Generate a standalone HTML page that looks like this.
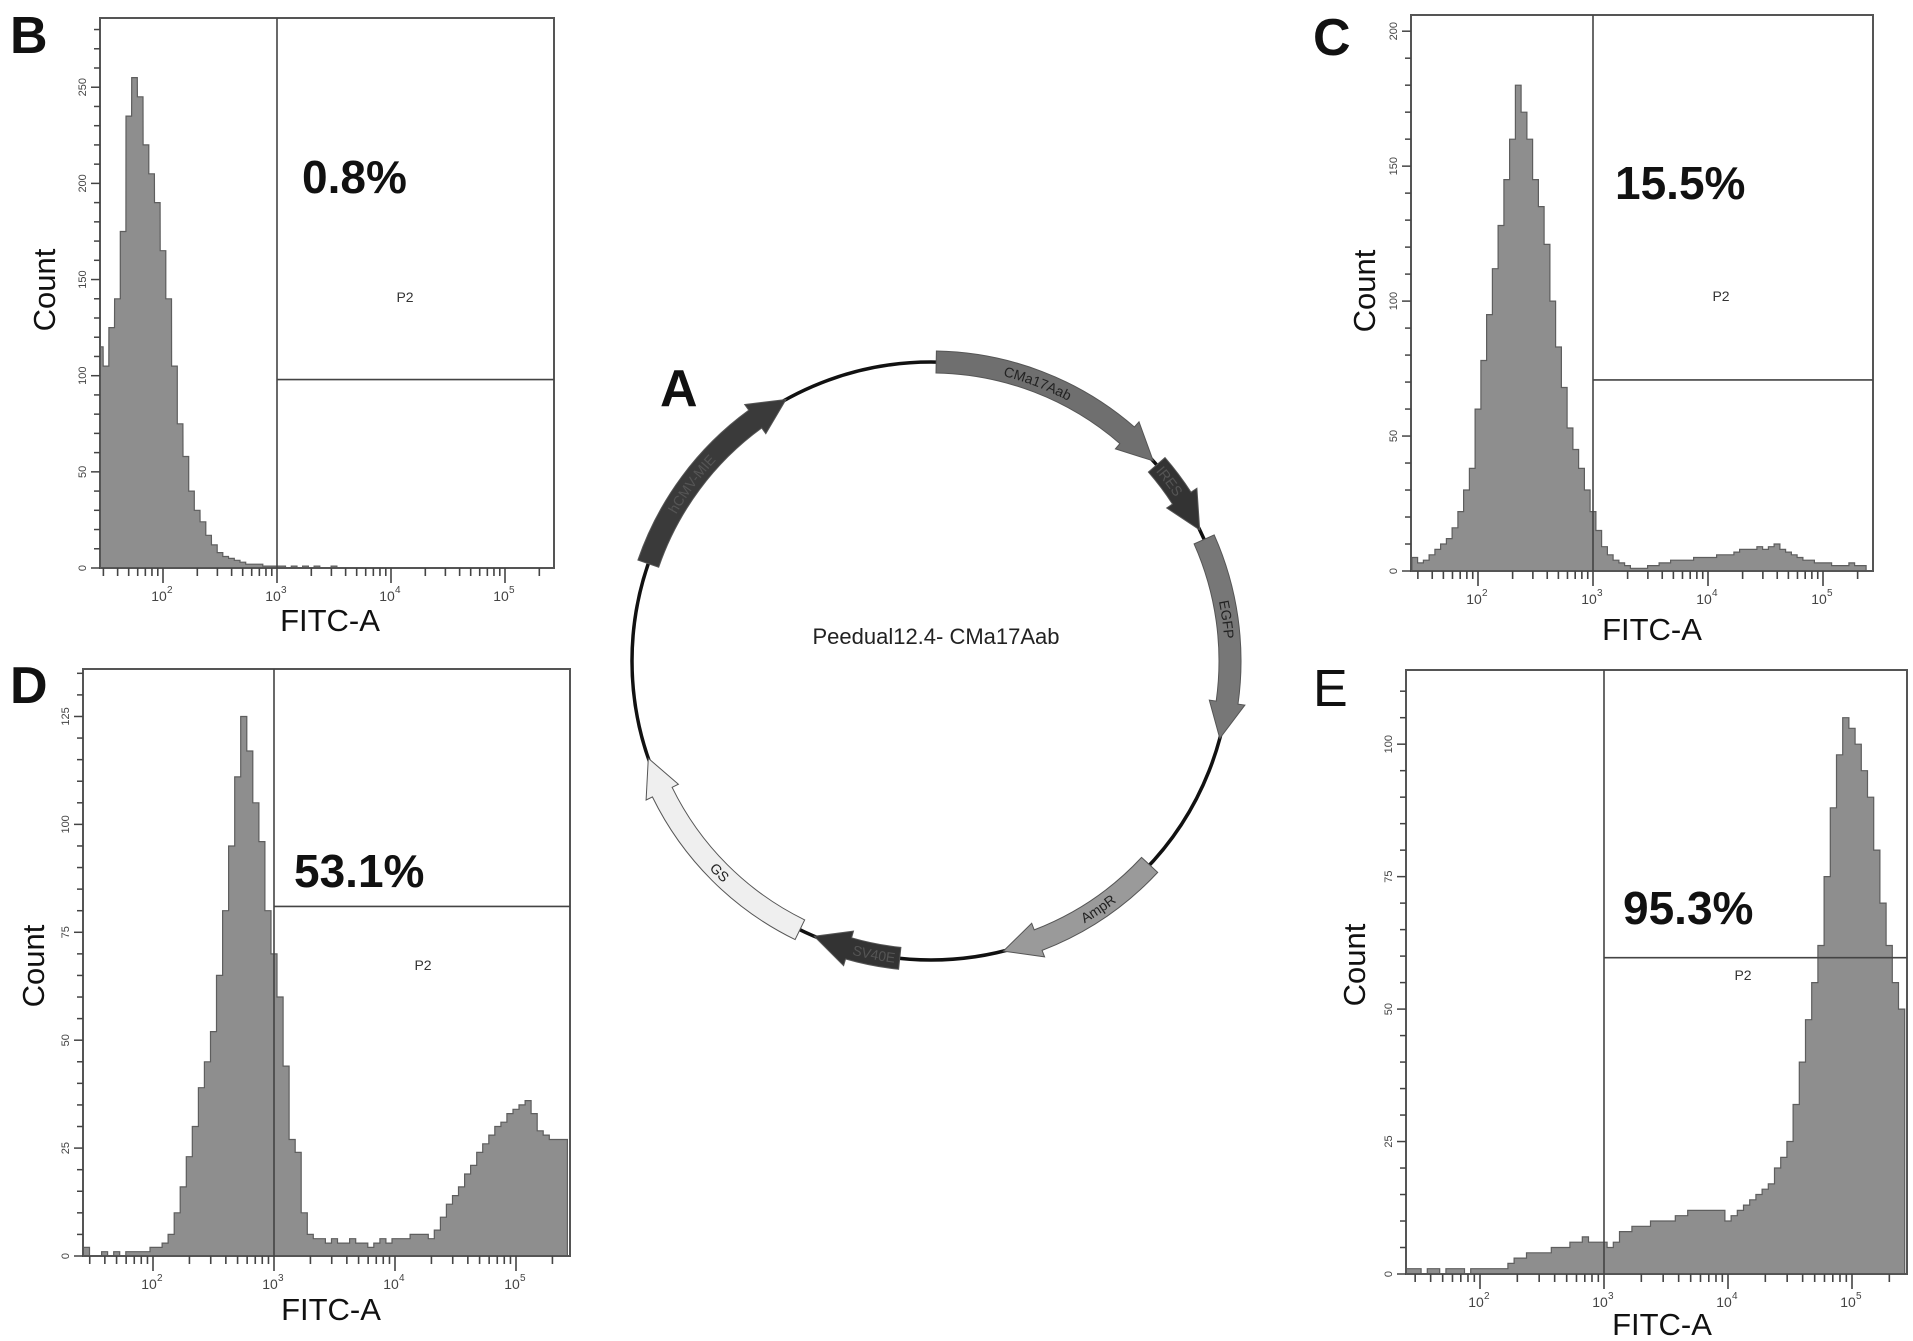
<!DOCTYPE html>
<html><head><meta charset="utf-8">
<style>
html,body{margin:0;padding:0;background:#fff;}
svg{display:block;}
text{font-family:"Liberation Sans",Arial,sans-serif;}
</style></head>
<body>
<svg id="fig" width="1913" height="1341" viewBox="0 0 1913 1341" xmlns="http://www.w3.org/2000/svg">
<rect x="0" y="0" width="1913" height="1341" fill="#fff"/>
</svg>
<script>
// ---- histogram data (bins are 0.05 log10 units wide, starting at *Start) ----
const bStart = 1.45;
const bCounts = [115,105,125,140,175,235,255,245,220,205,190,
165,140,105,75,58,40,30,24,17,12,
8,6,5,4,3,2,2,2,1,1,
1,1,0,1,0,1,0,1,0,0,
1,0,0,0,0,0,0,0,0,0,
0,0,0,0,0,0,0,0,0,0,
0,0,0,0,0,0,0,0,0,0,
0,0,0,0,0,0,0,0,0];
const cStart = 1.45;
const cCounts = [5,3,4,6,8,10,12,16,22,30,38,
60,78,95,112,128,145,160,180,170,160,
145,135,121,100,83,68,53,45,38,30,
22,15,9,6,4,3,2,1,1,1,
2,2,3,3,4,4,4,4,5,5,
5,5,6,6,6,7,8,8,8,9,
8,9,10,8,7,6,5,4,4,3,
3,3,2,2,2,3,2,2];
const dStart = 1.45;
const dCounts = [2,0,0,1,0,1,0,1,1,1,1,
2,2,3,5,10,16,23,30,39,45,
52,65,80,95,111,125,117,105,96,80,
70,60,44,27,24,10,5,4,4,3,
4,3,3,4,3,3,2,3,4,3,
4,4,4,5,5,5,4,6,9,12,
14,16,19,21,24,26,28,30,31,33,
34,35,36,33,29,28,27,27,27];
const eStart = 1.40;
const eCounts = [1,1,1,0,1,1,0,1,1,1,0,1,
1,1,1,1,1,2,3,3,4,4,
4,4,5,5,5,6,6,7,6,6,
6,5,6,8,8,9,9,9,10,10,
10,10,11,11,12,12,12,12,12,12,
10,11,12,13,14,15,16,17,20,22,
25,32,40,48,55,62,75,88,98,105,
103,100,95,90,80,70,62,55,50];
const decadeLabels = ["2","3","4","5"];
const gatePercents = ["0.8%","15.5%","53.1%","95.3%"];

const NS = "http://www.w3.org/2000/svg";
const svg = document.getElementById('fig');
function mk(tag, attrs, parent){
  const e = document.createElementNS(NS, tag);
  for (const k in attrs) e.setAttribute(k, attrs[k]);
  (parent||svg).appendChild(e);
  return e;
}

function panel(p){
  const g = mk('g', {});
  
  
  const xs = v => p.x2 + (v - 2) * p.dec;
  const ys = v => p.bottom - v / p.ymax * (p.bottom - p.top);
  const clip = mk('clipPath', {id: p.name + '-clip'}, g);
  mk('rect', {x: p.left, y: p.top, width: p.right - p.left, height: p.bottom - p.top}, clip);
  let d = '';
  const hw = 0.025;
  for (let i = 0; i < p.counts.length; i++) {
    const c = p.start + i * 0.05;
    const x0 = xs(c - hw), x1 = xs(c + hw), y = ys(p.counts[i]);
    d += (i === 0 ? 'M' + x0.toFixed(1) + ',' + p.bottom + ' L' : ' L') + x0.toFixed(1) + ',' + y.toFixed(1) + ' L' + x1.toFixed(1) + ',' + y.toFixed(1);
  }
  const lastX = xs(p.start + (p.counts.length - 1) * 0.05 + hw);
  d += ' L' + lastX.toFixed(1) + ',' + p.bottom + ' Z';
  const hist = mk('path', {d: d, fill: '#8e8e8e', stroke: '#5e5e5e', 'stroke-width': 1.2, 'clip-path': 'url(#' + p.name + '-clip)'}, g);
  
  
  const fr = mk('rect', {x: p.left, y: p.top, width: p.right - p.left, height: p.bottom - p.top, fill: 'none', stroke: '#555', 'stroke-width': 2}, g);
  
  
  const gx = xs(3), gy = ys(p.gateY);
  const gv = mk('line', {x1: gx, y1: p.top, x2: gx, y2: p.bottom, stroke: '#444', 'stroke-width': 1.6}, g);
  
  
  const gh = mk('line', {x1: gx, y1: gy, x2: p.right, y2: gy, stroke: '#444', 'stroke-width': 1.6}, g);
  
  
  for (let v = 0; v <= p.ymax; v += p.minor) {
    const y = ys(v);
    const major = (v % p.major === 0);
    mk('line', {x1: p.left - (major ? 9 : 6), y1: y, x2: p.left, y2: y, stroke: '#444', 'stroke-width': 1.5}, g);
    if (major) {
      const t = mk('text', {x: 0, y: 0, transform: 'translate(' + (p.left - 14) + ',' + y + ') rotate(-90)', 'text-anchor': 'middle', 'font-size': 11, fill: '#444'}, g);
      t.textContent = v;
      
      
    }
  }
  for (let dcd = 1; dcd <= 5; dcd++) {
    for (let m = 1; m <= 9; m++) {
      const lv = dcd + Math.log10(m);
      const x = xs(lv);
      if (x < p.left + 1 || x > p.right - 1) continue;
      mk('line', {x1: x, y1: p.bottom, x2: x, y2: p.bottom + (m === 1 ? 15 : 8), stroke: '#444', 'stroke-width': 1.6}, g);
    }
  }
  decadeLabels.forEach(lab => {
    const x = xs(+lab);
    const t = mk('text', {x: x - 4, y: p.bottom + 33, 'text-anchor': 'middle', 'font-size': 14, fill: '#444'}, g);
    t.textContent = '10';
    
    
    const s = mk('text', {x: x + 4, y: p.bottom + 25, 'font-size': 10, fill: '#444'}, g);
    s.textContent = lab;
    
    
  });
  const pct = mk('text', {x: p.pct[0], y: p.pct[1] + 16, 'font-size': 46, 'font-weight': 'bold', fill: '#111'}, g);
  pct.textContent = p.pctText;
  
  
  const p2 = mk('text', {x: p.p2[0], y: p.p2[1] + 5, 'text-anchor': 'middle', 'font-size': 14, fill: '#333'}, g);
  p2.textContent = 'P2';
  
  
  const cnt = mk('text', {x: 0, y: 0, transform: 'translate(' + (p.count[0] + 11) + ',' + p.count[1] + ') rotate(-90)', 'text-anchor': 'middle', 'font-size': 31, fill: '#111'}, g);
  cnt.textContent = 'Count';
  
  
  const fx = mk('text', {x: p.fitc[0], y: p.fitc[1] + 11, 'text-anchor': 'middle', 'font-size': 31, fill: '#111'}, g);
  fx.textContent = 'FITC-A';
  
  
  const L = mk('text', {x: p.letter[0], y: p.letter[1], 'font-size': 52, 'font-weight': p.letterBold ? 'bold' : 'normal', fill: '#111'}, g);
  L.textContent = p.letterText;
  
  
}

panel({name:'panel-b', left:100, top:18, right:554, bottom:568, x2:163, dec:114, ymax:286, gateY:98, major:50, minor:10,
  counts:bCounts, start:bStart, pctText:gatePercents[0], pct:[302,177], p2:[405,297], count:[44,290], fitc:[330,620], letter:[10,53], letterText:'B', letterBold:true});
panel({name:'panel-c', left:1411, top:15, right:1873, bottom:571, x2:1478, dec:115, ymax:206, gateY:70.8, major:50, minor:10,
  counts:cCounts, start:cStart, pctText:gatePercents[1], pct:[1615,183], p2:[1721,296], count:[1364,291], fitc:[1652,629], letter:[1313,55], letterText:'C', letterBold:true});
panel({name:'panel-d', left:83, top:669, right:570, bottom:1256, x2:153, dec:121, ymax:136, gateY:81, major:25, minor:5,
  counts:dCounts, start:dStart, pctText:gatePercents[2], pct:[294,871], p2:[423,965], count:[33,966], fitc:[331,1309], letter:[10,703], letterText:'D', letterBold:true});
panel({name:'panel-e', left:1406, top:670, right:1907, bottom:1274, x2:1480, dec:124, ymax:114, gateY:59.7, major:25, minor:5,
  counts:eCounts, start:eStart, pctText:gatePercents[3], pct:[1623,908], p2:[1743,975], count:[1354,965], fitc:[1662,1324], letter:[1313,706], letterText:'E', letterBold:false});

// ---- plasmid map (panel A) ----
const features = ["CMa17Aab","IRES","EGFP","AmpR","SV40E","GS","hCMV-MIE"];
const featStart = [1, 49, 66, 133, 186, 206, 289];
const featEnd   = [48, 64, 105, 166, 203, 251, 331];
const featColor = ["#6f6f6f","#333333","#777777","#9a9a9a","#333333","#efefef","#3a3a3a"];
const CX = 931, CY = 661, R = 299;
const ga = mk('g', {});


mk('circle', {cx: CX, cy: CY, r: R, fill: 'none', stroke: '#111', 'stroke-width': 3.5}, ga);
function pt(a, r){ const t = a * Math.PI / 180; return [CX + r * Math.sin(t), CY - r * Math.cos(t)]; }
function f(p){ return p[0].toFixed(1) + ',' + p[1].toFixed(1); }
const defs = mk('defs', {}, ga);
features.forEach((name, i) => {
  const a1 = featStart[i], a2 = featEnd[i];
  const head = 7;
  const ri = R - 11, ro = R + 11, hi = R - 18, ho = R + 18;
  const tail = a1, tip = a2, neck = a2 - head;
  const d = 'M' + f(pt(tail, ro)) + ' A' + ro + ',' + ro + ' 0 0 1 ' + f(pt(neck, ro)) +
    ' L' + f(pt(neck, ho)) + ' L' + f(pt(tip, R)) + ' L' + f(pt(neck, hi)) + ' L' + f(pt(neck, ri)) +
    ' A' + ri + ',' + ri + ' 0 0 0 ' + f(pt(tail, ri)) + ' Z';
  const arr = mk('path', {d: d, fill: featColor[i], stroke: '#555', 'stroke-width': 1}, ga);
  
  
  const mid = (a1 + a2) / 2;
  let s, e, sw, rt;
  if (mid < 120 || mid > 270) { s = a1; e = a2 - head; sw = 1; rt = R - 5; }
  else { s = a2 - head; e = a1; sw = 0; rt = R + 5; }
  const tp = mk('path', {id: 'tp' + i, d: 'M' + f(pt(s, rt)) + ' A' + rt + ',' + rt + ' 0 0 ' + sw + ' ' + f(pt(e, rt)), fill: 'none'}, defs);
  const tx = mk('text', {'font-size': 14, fill: i === 1 || i === 4 || i === 6 ? '#555' : '#222'}, ga);
  
  
  const tpe = mk('textPath', {href: '#tp' + i, startOffset: '50%', 'text-anchor': 'middle'}, tx);
  tpe.textContent = name;
});
const title = mk('text', {x: 936, y: 644, 'text-anchor': 'middle', 'font-size': 22, fill: '#222'}, ga);
title.textContent = 'Peedual12.4- CMa17Aab';


const la = mk('text', {x: 660, y: 406, 'font-size': 52, 'font-weight': 'bold', fill: '#111'}, ga);
la.textContent = 'A';


</script>
</body></html>
